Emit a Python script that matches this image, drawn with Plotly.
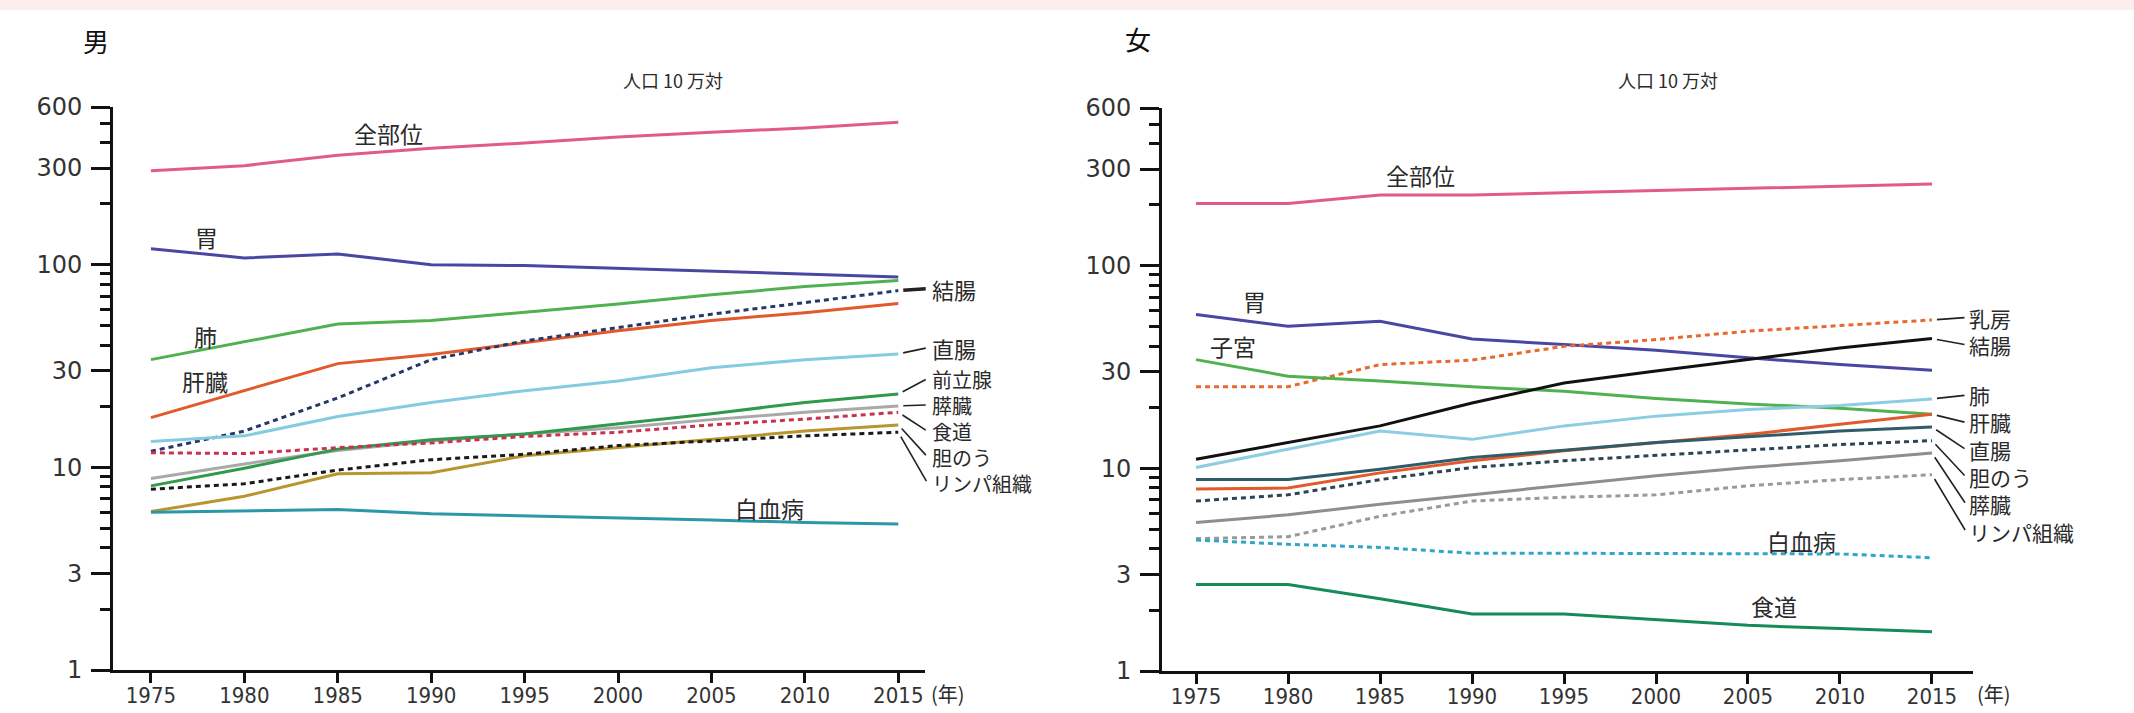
import math
import plotly.graph_objects as go

# ---------------- data ----------------
years = [1975, 1980, 1985, 1990, 1995, 2000, 2005, 2010, 2015]
year_tick_text = ["1975", "1980", "1985", "1990", "1995", "2000", "2005", "2010", "2015"]
y_major_ticks = [1, 3, 10, 30, 100, 300, 600]
y_major_text = ["1", "3", "10", "30", "100", "300", "600"]
y_minor_ticks = [2, 4, 5, 6, 7, 8, 9, 20, 40, 50, 60, 70, 80, 90, 200, 400, 500]

# 男 (male), per 100,000 population
m_zenbui = [291, 308, 347, 375, 399, 427, 450, 473, 504]
m_i = [120, 108, 113, 100, 99, 96, 93, 90, 87]
m_hai = [34, 41.5, 51, 53, 58, 64, 71, 78, 83.5]
m_ketcho = [12, 15.1, 22, 34, 42, 49, 57, 65, 74.5]
m_kanzo = [17.6, 24, 32.5, 36, 41.3, 47.2, 53, 58, 64.4]
m_chokucho = [13.4, 14.3, 17.8, 20.9, 23.9, 26.7, 31, 34, 36.3]
m_zenritsusen = [8.1, 9.9, 12.3, 13.7, 14.6, 16.4, 18.4, 20.9, 23]
m_suizo = [8.8, 10.4, 12.1, 13.5, 14.6, 15.7, 17.2, 18.7, 20.1]
m_shokudo = [11.8, 11.7, 12.5, 13.2, 14.2, 14.9, 16.2, 17.3, 18.7]
m_tanno = [6.05, 7.2, 9.3, 9.4, 11.4, 12.5, 13.8, 15.1, 16.2]
m_linpa = [7.8, 8.3, 9.7, 10.9, 11.6, 12.8, 13.5, 14.3, 14.9]
m_hakketsu = [6.0, 6.1, 6.2, 5.9, 5.77, 5.65, 5.5, 5.34, 5.25]

# 女 (female), per 100,000 population
f_zenbui = [203, 203, 223, 223, 229, 235, 241, 247, 253]
f_i = [57.4, 50.3, 53.2, 43.5, 40.8, 38.3, 35.1, 32.5, 30.5]
f_nyubo = [25.3, 25.3, 32.5, 34.2, 40, 43.2, 47.5, 50.6, 54]
f_shikyu = [34.4, 28.5, 27, 25.3, 24, 22.1, 20.8, 19.8, 18.5]
f_ketcho = [11.1, 13.4, 16.2, 21, 26.4, 30.2, 34.4, 39.3, 43.7]
f_hai = [10.1, 12.4, 15.3, 13.9, 16.2, 18.1, 19.5, 20.4, 22]
f_kanzo = [7.9, 8.0, 9.5, 10.9, 12.2, 13.4, 14.7, 16.5, 18.5]
f_chokucho = [8.8, 8.8, 9.9, 11.3, 12.3, 13.4, 14.3, 15.3, 16.0]
f_tanno = [6.9, 7.4, 8.8, 10.1, 10.9, 11.6, 12.4, 13.1, 13.7]
f_suizo = [5.4, 5.9, 6.65, 7.4, 8.2, 9.2, 10.1, 10.9, 11.9]
f_linpa = [4.5, 4.6, 5.8, 6.9, 7.2, 7.4, 8.2, 8.8, 9.3]
f_hakketsu = [4.43, 4.22, 4.07, 3.81, 3.81, 3.81, 3.81, 3.78, 3.62]
f_shokudo = [2.67, 2.67, 2.27, 1.91, 1.91, 1.79, 1.68, 1.62, 1.56]

# ---------------- styles ----------------
DOT = "5px,4px"
male_series = [
    ("全部位", m_zenbui, "#e2598c", "solid"),
    ("胃", m_i, "#4a47a3", "solid"),
    ("肺", m_hai, "#4fb150", "solid"),
    ("肝臓", m_kanzo, "#e2592b", "solid"),
    ("結腸", m_ketcho, "#26386a", DOT),
    ("直腸", m_chokucho, "#84cbe2", "solid"),
    ("膵臓", m_suizo, "#a9a9a9", "solid"),
    ("前立腺", m_zenritsusen, "#2f9a4b", "solid"),
    ("食道", m_shokudo, "#c8324e", DOT),
    ("胆のう", m_tanno, "#b8952d", "solid"),
    ("リンパ組織", m_linpa, "#1a1a1a", DOT),
    ("白血病", m_hakketsu, "#2a98a8", "solid"),
]
female_series = [
    ("全部位", f_zenbui, "#e2598c", "solid"),
    ("胃", f_i, "#4a47a3", "solid"),
    ("乳房", f_nyubo, "#e8692f", DOT),
    ("子宮", f_shikyu, "#4fb150", "solid"),
    ("肺", f_hai, "#8ccde2", "solid"),
    ("結腸", f_ketcho, "#111111", "solid"),
    ("肝臓", f_kanzo, "#e2592b", "solid"),
    ("直腸", f_chokucho, "#2f5c68", "solid"),
    ("胆のう", f_tanno, "#2d4553", DOT),
    ("膵臓", f_suizo, "#8e8e8e", "solid"),
    ("リンパ組織", f_linpa, "#9a9a9a", DOT),
    ("白血病", f_hakketsu, "#2fa6c8", DOT),
    ("食道", f_shokudo, "#178a5a", "solid"),
]

fig = go.Figure()
for name, vals, col, dash in male_series:
    fig.add_trace(go.Scatter(x=years, y=vals, mode="lines", name="男 " + name,
                             line=dict(color=col, width=3, dash=dash),
                             xaxis="x", yaxis="y", showlegend=False))
for name, vals, col, dash in female_series:
    fig.add_trace(go.Scatter(x=years, y=vals, mode="lines", name="女 " + name,
                             line=dict(color=col, width=3, dash=dash),
                             xaxis="x2", yaxis="y2", showlegend=False))

JP = "Noto Sans CJK JP, Noto Sans, sans-serif"
TXT = "#2a2a2a"
lab_font = dict(family=JP, size=23, color=TXT)

annotations = []

# inline labels (text, year, value)
male_inline = [("全部位", 1987.7, 448), ("胃", 1978.0, 137), ("肺", 1977.9, 44.6),
               ("肝臓", 1977.9, 26.7), ("白血病", 2008.1, 6.33)]
female_inline = [("全部位", 1987.2, 281), ("胃", 1978.2, 66.7), ("子宮", 1977.0, 40.0),
                 ("白血病", 2007.9, 4.38), ("食道", 2006.4, 2.1)]
for t, yr, v in male_inline:
    annotations.append(dict(x=yr, y=math.log10(v), xref="x", yref="y", text=t,
                            showarrow=False, font=lab_font))
for t, yr, v in female_inline:
    annotations.append(dict(x=yr, y=math.log10(v), xref="x2", yref="y2", text=t,
                            showarrow=False, font=lab_font))

# right-side labels: stacked names (names, label year, centre value, font size, x shift px)
male_groups = [(["結腸"], 2016.4, 76.1, 22, 6), (["直腸"], 2016.4, 38.9, 22, 6),
               (["前立腺", "膵臓", "食道", "胆のう", "リンパ組織"], 2016.4, 15.1, 20, 6)]
female_groups = [(["乳房", "結腸"], 2016.9, 47.6, 21, 0),
                 (["肺", "肝臓", "直腸", "胆のう", "膵臓", "リンパ組織"], 2016.9, 10.58, 21, 0)]
# leader lines: (end value, leader-tail year, leader-tail value, width)
male_leaders = [(m_ketcho[-1], 2016.55, 76.1, 3.5), (m_chokucho[-1], 2016.55, 38.9, 1.6),
                (m_zenritsusen[-1], 2016.55, 27.4, 1.6), (m_suizo[-1], 2016.55, 20.3, 1.6),
                (m_shokudo[-1], 2016.55, 15.1, 1.6), (m_tanno[-1], 2016.55, 11.3, 1.6),
                (m_linpa[-1], 2016.55, 8.4, 1.6)]
female_leaders = [(f_nyubo[-1], 2016.85, 55.5, 1.8), (f_ketcho[-1], 2016.85, 40.7, 1.6),
                  (f_hai[-1], 2016.85, 22.95, 1.8), (f_kanzo[-1], 2016.85, 16.84, 1.6),
                  (f_chokucho[-1], 2016.85, 12.36, 1.6), (f_tanno[-1], 2016.85, 9.07, 1.6),
                  (f_suizo[-1], 2016.85, 6.65, 1.6), (f_linpa[-1], 2016.85, 4.88, 1.6)]

for xr, yr_, groups, leaders in (("x", "y", male_groups, male_leaders),
                                 ("x2", "y2", female_groups, female_leaders)):
    for names, lx, cv, fs, xs in groups:
        annotations.append(dict(x=lx, y=math.log10(cv), xref=xr, yref=yr_,
                                text="<br>".join(names), showarrow=False,
                                xanchor="left", yanchor="middle", align="left",
                                xshift=xs, font=dict(family=JP, size=fs, color=TXT)))
    for endv, tx, tv, w in leaders:
        annotations.append(dict(x=2015, y=math.log10(endv), xref=xr, yref=yr_,
                                axref=xr, ayref=yr_, ax=tx, ay=math.log10(tv),
                                text="", showarrow=True, arrowhead=0, arrowwidth=w,
                                arrowcolor="#222", standoff=5))

# panel titles and units (paper coordinates)
def paper_text(t, px, py, size, color=TXT):
    return dict(x=px / 2134, y=1 - py / 713, xref="paper", yref="paper", text=t,
                showarrow=False, xanchor="center", yanchor="middle",
                font=dict(family=JP, size=size, color=color))

annotations += [
    paper_text("男", 96, 40, 26, "#111"),
    paper_text("女", 1138, 39, 26, "#111"),
    paper_text("人口 10 万対", 673, 80, 18),
    paper_text("人口 10 万対", 1668, 80, 18),
    paper_text("(年)", 948, 693, 20),
    paper_text("(年)", 1994, 693, 20),
]

xtickfont = dict(family="Liberation Sans Narrow, DejaVu Sans Condensed, Arial Narrow, Liberation Sans",
                 size=22, color="#333")
ytickfont = dict(family="DejaVu Sans, Verdana, sans-serif", size=24, color="#333")

def xaxis_cfg(domain, rng, anchor):
    return dict(domain=domain, range=rng, anchor=anchor, tickmode="array",
                tickvals=years, ticktext=year_tick_text, ticks="outside", ticklen=10,
                tickwidth=2.5, tickcolor="#111", showline=True, linecolor="#111",
                linewidth=3, showgrid=False, zeroline=False, tickfont=xtickfont,
                ticklabelstandoff=-6, automargin=False)

def yaxis_cfg(domain, anchor):
    return dict(domain=domain, type="log", range=[0, math.log10(600)], anchor=anchor,
                tickmode="array", tickvals=y_major_ticks, ticktext=y_major_text,
                ticks="outside", ticklen=19, tickwidth=3, tickcolor="#111",
                minor=dict(tickmode="array", tickvals=y_minor_ticks, ticks="outside",
                           ticklen=10, tickwidth=2.5, tickcolor="#111", showgrid=False),
                showline=True, linecolor="#111", linewidth=3, showgrid=False,
                zeroline=False, tickfont=ytickfont, ticklabelstandoff=4,
                automargin=False)

fig.update_layout(
    width=2134, height=713,
    margin=dict(l=0, r=0, t=0, b=0, pad=0, autoexpand=False),
    paper_bgcolor="white", plot_bgcolor="white",
    xaxis=xaxis_cfg([113 / 2134, 925 / 2134], [1972.97, 2016.43], "y"),
    yaxis=yaxis_cfg([1 - 670 / 713, 1 - 107 / 713], "x"),
    xaxis2=xaxis_cfg([1162 / 2134, 1973 / 2134], [1973.15, 2017.23], "y2"),
    yaxis2=yaxis_cfg([1 - 671 / 713, 1 - 108 / 713], "x2"),
    annotations=annotations,
    shapes=[dict(type="rect", xref="paper", yref="paper", x0=0, x1=1,
                 y0=1 - 10 / 713, y1=1, fillcolor="#fbefed", line=dict(width=0),
                 layer="below")],
    showlegend=False,
)

fig.write_html("out.html", config={"displayModeBar": False},
               post_script="document.body.style.margin='0';document.body.style.overflow='hidden';")
